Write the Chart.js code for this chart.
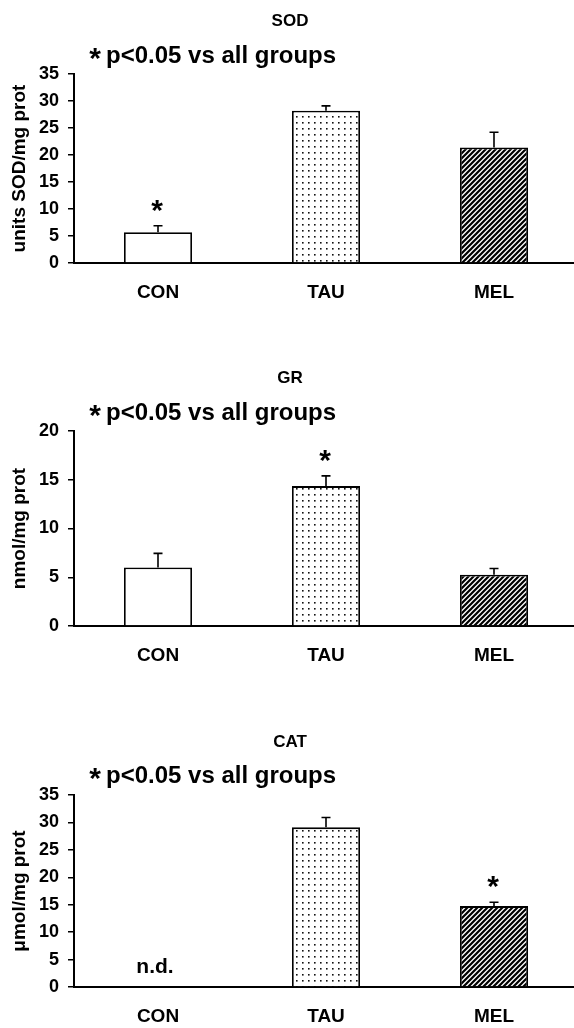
<!DOCTYPE html>
<html><head><meta charset="utf-8">
<script src="https://cdn.jsdelivr.net/npm/chart.js@4.4.0/dist/chart.umd.min.js"></script>
<style>
html,body{margin:0;padding:0;background:#fff;overflow:hidden;width:574px;height:1028px;position:relative}
canvas{position:absolute;left:0}
</style></head><body>
<canvas id="c1" width="578" height="310" style="top:0px"></canvas>
<canvas id="c2" width="578" height="343" style="top:330px"></canvas>
<canvas id="c3" width="578" height="337" style="top:690px"></canvas>
<script>
// ---- data ----
const categories = ['CON', 'TAU', 'MEL'];
const panelTitles = ['SOD', 'GR', 'CAT'];
const noteText = 'p<0.05 vs all groups';
const yTitles = ['units SOD/mg prot', 'nmol/mg prot', '\u03bcmol/mg prot'];
const yMaxima = [35, 20, 35];
const yStep = 5;

const sodMeans = [5.7, 28.2, 21.4];
const sodErrors = [1.2, 0.9, 2.8];
const sodSignificant = [true, false, false];

const grMeans = [6.0, 14.35, 5.25];
const grErrors = [1.45, 1.05, 0.65];
const grSignificant = [false, true, false];

const catMeans = [null, 29.1, 14.75];
const catErrors = [null, 1.8, 0.7];
const catSignificant = [false, false, true];
const catNotDetected = [true, false, false];

// ---- styling ----
const FONT = '"Liberation Sans", Arial, Helvetica, sans-serif';

function dotPattern() {
  const c = document.createElement('canvas'); c.width = 6; c.height = 6;
  const g = c.getContext('2d');
  g.fillStyle = '#fff'; g.fillRect(0, 0, 6, 6);
  g.fillStyle = '#111'; g.fillRect(2, 2, 1.6, 1.6);
  return g.createPattern(c, 'repeat');
}
function hatchPattern() {
  const s = 5;
  const c = document.createElement('canvas'); c.width = s; c.height = s;
  const g = c.getContext('2d');
  g.fillStyle = '#fff'; g.fillRect(0, 0, s, s);
  g.strokeStyle = '#000'; g.lineWidth = 2.2;
  g.beginPath();
  g.moveTo(0, s); g.lineTo(s, 0);
  g.moveTo(-1, 1); g.lineTo(1, -1);
  g.moveTo(s - 1, s + 1); g.lineTo(s + 1, s - 1);
  g.stroke();
  return g.createPattern(c, 'repeat');
}

function drawStar(ctx, x, cy, size) {
  ctx.font = 'bold ' + size + 'px ' + FONT;
  ctx.textAlign = 'center'; ctx.textBaseline = 'alphabetic';
  const mt = ctx.measureText('*');
  const a = mt.actualBoundingBoxAscent, d = mt.actualBoundingBoxDescent;
  ctx.fillText('*', x, cy + (a - d) / 2);
}

function annotPlugin(p) {
  return {
    id: 'annot',
    afterDatasetsDraw(chart) {
      const ctx = chart.ctx;
      const xs = chart.scales.x, ys = chart.scales.y;
      const meta = chart.getDatasetMeta(0);
      ctx.save();
      ctx.fillStyle = '#000';
      // panel title
      ctx.font = 'bold 17px ' + FONT;
      ctx.textAlign = 'center'; ctx.textBaseline = 'middle';
      ctx.fillText(p.title, 290, p.titleY);
      // significance note
      drawStar(ctx, 95, p.noteY - 2, 30);
      ctx.font = 'bold 24px ' + FONT;
      ctx.textAlign = 'left'; ctx.textBaseline = 'middle';
      ctx.fillText(noteText, 106, p.noteY);
      // error bars + asterisks
      ctx.strokeStyle = '#000'; ctx.lineWidth = 1.6;
      p.means.forEach((m, i) => {
        if (m === null || m === undefined) return;
        const x = meta.data[i].x;
        const yBar = ys.getPixelForValue(m);
        const yTop = ys.getPixelForValue(m + p.errors[i]);
        ctx.beginPath();
        ctx.moveTo(x, yBar); ctx.lineTo(x, yTop);
        ctx.moveTo(x - 4.5, yTop); ctx.lineTo(x + 4.5, yTop);
        ctx.stroke();
        if (p.sig[i]) drawStar(ctx, x - 1, yTop - 20, 30);
      });
      // not detected labels
      (p.nd || []).forEach((flag, i) => {
        if (!flag) return;
        const x = xs.getPixelForValue(i) - 3;
        ctx.font = 'bold 21px ' + FONT;
        ctx.textAlign = 'center'; ctx.textBaseline = 'alphabetic';
        ctx.fillText('n.d.', x, ys.getPixelForValue(0) - 14);
      });
      ctx.restore();
    }
  };
}

function makeChart(id, p) {
  return new Chart(document.getElementById(id), {
    type: 'bar',
    data: {
      labels: categories,
      datasets: [{
        data: p.means,
        backgroundColor: ['#ffffff', dotPattern(), hatchPattern()],
        borderColor: '#000',
        borderWidth: 1.8,
        barPercentage: 0.405,
        categoryPercentage: 1
      }]
    },
    options: {
      responsive: false,
      animation: false,
      devicePixelRatio: 1,
      layout: { padding: { top: p.padTop, left: 0, right: 0, bottom: 0 } },
      plugins: { legend: { display: false }, tooltip: { enabled: false } },
      scales: {
        x: {
          grid: { display: false },
          border: { display: true, color: '#000', width: 2 },
          ticks: { color: '#000', font: { family: FONT, size: 19, weight: 'bold' }, padding: 10 },
          afterFit(s) { s.height = p.xH; }
        },
        y: {
          min: 0, max: p.yMax,
          ticks: { stepSize: yStep, color: '#000', font: { family: FONT, size: 18, weight: 'bold' }, padding: 9 },
          grid: { display: true, drawOnChartArea: false, drawTicks: true, tickLength: 6, color: '#000', lineWidth: 1.5 },
          border: { display: true, color: '#000', width: 2 },
          title: { display: true, text: p.yTitle, color: '#000', font: { family: FONT, size: 19, weight: 'bold' }, padding: { top: 8, bottom: 0 } },
          afterFit(s) { s.width = 74; }
        }
      }
    },
    plugins: [annotPlugin(p)]
  });
}

makeChart('c1', { title: panelTitles[0], titleY: 21, noteY: 56, padTop: 74, xH: 47, yMax: yMaxima[0], yTitle: yTitles[0],
  means: sodMeans, errors: sodErrors, sig: sodSignificant });
makeChart('c2', { title: panelTitles[1], titleY: 48, noteY: 83, padTop: 101, xH: 47, yMax: yMaxima[1], yTitle: yTitles[1],
  means: grMeans, errors: grErrors, sig: grSignificant });
makeChart('c3', { title: panelTitles[2], titleY: 52, noteY: 86, padTop: 105, xH: 40, yMax: yMaxima[2], yTitle: yTitles[2],
  means: catMeans, errors: catErrors, sig: catSignificant, nd: catNotDetected });
</script>
</body></html>
